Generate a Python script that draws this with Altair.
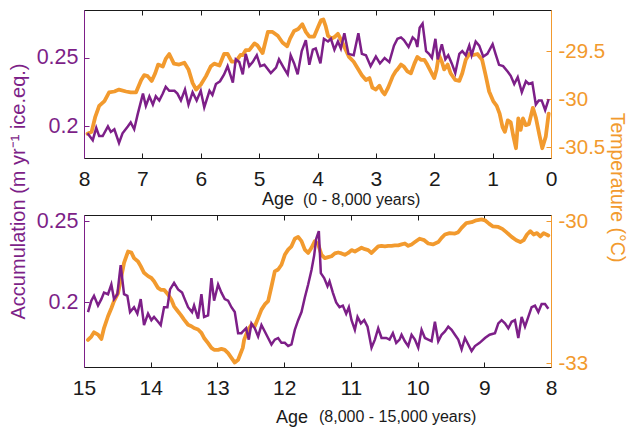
import altair as alt
import pandas as pd

PURPLE = "#7d1f88"
ORANGE = "#f29a2e"
INK = "#1a1a1a"
FONT = "Liberation Sans"

# ---- 0 - 8,000 years (ages in kyr) ----
top_acc_age = [7.94, 7.85, 7.79, 7.74, 7.68, 7.59, 7.54, 7.48, 7.40, 7.34, 7.25, 7.20, 7.14, 7.08,
               6.99, 6.94, 6.88, 6.82, 6.77, 6.71, 6.65, 6.60, 6.54, 6.45, 6.40, 6.34, 6.27, 6.21,
               6.14, 6.07, 6.00, 5.94, 5.85, 5.80, 5.74, 5.67, 5.60, 5.54, 5.45, 5.40, 5.34,
               5.28, 5.23, 5.17, 5.11, 5.04, 4.98, 4.91, 4.80, 4.71, 4.66, 4.58, 4.51, 4.46, 4.40,
               4.34, 4.27, 4.20, 4.14, 4.08, 4.03, 3.95, 3.89, 3.82, 3.77, 3.71, 3.65, 3.60, 3.54,
               3.47, 3.38, 3.30, 3.24, 3.17, 3.09, 3.00, 2.93, 2.85, 2.77, 2.69,
               2.63, 2.57, 2.52, 2.44, 2.37, 2.32, 2.29, 2.25, 2.20, 2.14, 2.09, 2.04, 1.98, 1.94,
               1.87, 1.81, 1.76, 1.70, 1.64, 1.57, 1.52, 1.46, 1.40, 1.36, 1.29, 1.23, 1.16, 1.09,
               1.00, 0.95, 0.89, 0.82, 0.74, 0.69, 0.63, 0.57, 0.50, 0.43, 0.38, 0.32, 0.26, 0.21,
               0.16, 0.10, 0.04]
top_acc = [0.195, 0.190, 0.199, 0.193, 0.193, 0.200, 0.196, 0.198, 0.188, 0.195, 0.200, 0.203, 0.198, 0.209,
           0.224, 0.215, 0.222, 0.216, 0.222, 0.219, 0.224, 0.229, 0.226, 0.226, 0.224, 0.219, 0.227, 0.216,
           0.225, 0.219, 0.226, 0.214, 0.226, 0.223, 0.231, 0.233, 0.238, 0.244, 0.232, 0.249, 0.247,
           0.238, 0.253, 0.244, 0.247, 0.252, 0.244, 0.245, 0.239, 0.243, 0.249, 0.243, 0.238, 0.252, 0.246,
           0.238, 0.255, 0.263, 0.245, 0.256, 0.257, 0.246, 0.264, 0.262, 0.264, 0.256, 0.262, 0.257, 0.268,
           0.253, 0.252, 0.268, 0.253, 0.252, 0.244, 0.251, 0.246, 0.250, 0.247, 0.259,
           0.264, 0.265, 0.263, 0.258, 0.265, 0.263, 0.258, 0.272, 0.275, 0.255, 0.253, 0.250, 0.264, 0.249,
           0.260, 0.249, 0.252, 0.246, 0.239, 0.253, 0.255, 0.252, 0.259, 0.252, 0.262, 0.259, 0.251, 0.253,
           0.260, 0.253, 0.245, 0.244, 0.240, 0.237, 0.231, 0.236, 0.225, 0.233, 0.231, 0.232, 0.216, 0.219,
           0.219, 0.212, 0.220]

top_temp_age = [7.94, 7.87, 7.81, 7.74, 7.65, 7.57, 7.48, 7.40, 7.28, 7.20, 7.11, 7.02, 6.97, 6.91,
                6.84, 6.78, 6.73, 6.65, 6.60, 6.54, 6.46, 6.37, 6.28, 6.21, 6.14, 6.08, 6.00, 5.91,
                5.83, 5.77, 5.68, 5.60, 5.54, 5.47, 5.40, 5.32,
                5.28, 5.23, 5.17, 5.08, 5.03, 4.94, 4.85, 4.77, 4.68, 4.60, 4.52, 4.47, 4.40, 4.33,
                4.26, 4.20, 4.14, 4.06, 3.99, 3.94, 3.90, 3.86, 3.82, 3.76, 3.70, 3.65, 3.59, 3.53,
                3.46, 3.38, 3.31, 3.24, 3.17, 3.11, 3.06, 3.00, 2.94, 2.89, 2.85, 2.79, 2.71, 2.66,
                2.63, 2.57, 2.52, 2.46, 2.40, 2.34, 2.29, 2.23, 2.17, 2.12, 2.06, 2.00, 1.96, 1.92,
                1.87, 1.83, 1.77, 1.72, 1.64, 1.57, 1.52, 1.46, 1.40, 1.33, 1.26, 1.18, 1.12, 1.06,
                0.99, 0.93, 0.88, 0.83, 0.79, 0.74, 0.69, 0.65, 0.60, 0.56, 0.52, 0.48, 0.43, 0.38,
                0.31, 0.26, 0.20, 0.15, 0.09, 0.04]
top_temp = [-30.36, -30.34, -30.19, -30.07, -30.02, -29.93, -29.92, -29.90, -29.92, -29.93, -29.93, -29.80,
            -29.75, -29.76, -29.81, -29.73, -29.64, -29.66, -29.58, -29.53, -29.63, -29.64, -29.62, -29.69,
            -29.83, -29.90, -29.85, -29.76, -29.66, -29.63, -29.65, -29.53, -29.53, -29.61, -29.61, -29.54,
            -29.54, -29.49, -29.49, -29.42, -29.44, -29.52, -29.30, -29.30, -29.34, -29.41, -29.45, -29.37,
            -29.29, -29.27, -29.22, -29.30, -29.35, -29.35, -29.25, -29.18, -29.17, -29.24, -29.34, -29.37,
            -29.35, -29.32, -29.39, -29.47, -29.56, -29.61, -29.68, -29.75, -29.80, -29.78, -29.88, -29.90,
            -29.86, -29.92, -29.95, -29.88, -29.76, -29.71,
            -29.69, -29.64, -29.66, -29.71, -29.73, -29.63, -29.56, -29.59, -29.59, -29.64, -29.71, -29.78,
            -29.69, -29.54, -29.61, -29.69, -29.64, -29.73, -29.80, -29.81, -29.73, -29.59, -29.53, -29.54,
            -29.53, -29.59, -29.75, -29.92, -30.02, -30.07, -30.15, -30.29, -30.34, -30.22, -30.24, -30.37,
            -30.51, -30.20, -30.32, -30.20, -30.27, -30.26, -30.09, -30.19, -30.37, -30.51, -30.39, -30.15]

# ---- 8,000 - 15,000 years ----
bot_acc_age = [14.94, 14.89, 14.85, 14.79, 14.74, 14.70, 14.64, 14.59, 14.55, 14.50, 14.47, 14.45,
               14.40, 14.35, 14.31, 14.25, 14.20, 14.15, 14.10, 14.04, 13.99, 13.95, 13.89, 13.85,
               13.80, 13.75, 13.71, 13.65, 13.59, 13.53, 13.49, 13.44, 13.38, 13.35, 13.29, 13.24,
               13.20, 13.14, 13.09, 13.05, 12.99, 12.94, 12.89, 12.84, 12.79, 12.74, 12.69, 12.64,
               12.62, 12.57, 12.53, 12.49, 12.44, 12.39, 12.34, 12.29, 12.24, 12.19, 12.14, 12.09,
               12.04, 11.99, 11.94, 11.89, 11.84, 11.79, 11.74, 11.69, 11.64, 11.59, 11.55, 11.52,
               11.48, 11.45, 11.40, 11.35, 11.32, 11.27, 11.22, 11.17, 11.12, 11.07, 11.03, 10.99,
               10.94, 10.90, 10.85, 10.80, 10.75, 10.69, 10.64, 10.59, 10.54, 10.47, 10.42, 10.37,
               10.32, 10.27,
               10.24, 10.19, 10.14, 10.09, 10.04, 9.99, 9.94, 9.89, 9.84, 9.79, 9.74, 9.69, 9.64,
               9.59, 9.54, 9.49, 9.44, 9.39, 9.34, 9.29, 9.24, 9.19, 9.14, 9.07, 8.99, 8.92, 8.84,
               8.79, 8.74, 8.69, 8.64, 8.59, 8.54, 8.49, 8.44, 8.39, 8.34, 8.29, 8.24, 8.19, 8.14,
               8.09, 8.04]
bot_acc = [0.194, 0.201, 0.204, 0.198, 0.202, 0.206, 0.205, 0.211, 0.202, 0.205, 0.216, 0.223,
           0.205, 0.204, 0.194, 0.197, 0.193, 0.202, 0.186, 0.193, 0.189, 0.191, 0.188, 0.186,
           0.197, 0.197, 0.208, 0.212, 0.208, 0.206, 0.202, 0.197, 0.194, 0.198, 0.190, 0.205,
           0.191, 0.192, 0.215, 0.201, 0.211, 0.206, 0.202, 0.201, 0.197, 0.194, 0.181, 0.181,
           0.182, 0.184, 0.177, 0.187, 0.184, 0.179, 0.186, 0.182, 0.178, 0.174, 0.177, 0.178,
           0.175, 0.175, 0.173, 0.174, 0.183, 0.189, 0.194, 0.203, 0.211, 0.220, 0.229, 0.239,
           0.244, 0.218, 0.215, 0.210, 0.213, 0.206, 0.200, 0.197, 0.198, 0.193, 0.197, 0.189,
           0.183, 0.191, 0.187, 0.189, 0.185, 0.172, 0.177, 0.184, 0.178, 0.178, 0.177, 0.181,
           0.175, 0.177,
           0.180, 0.176, 0.173, 0.180, 0.177, 0.172, 0.183, 0.178, 0.177, 0.176, 0.188, 0.176, 0.180,
           0.182, 0.185, 0.183, 0.180, 0.177, 0.171, 0.178, 0.174, 0.170, 0.173, 0.175, 0.178, 0.180,
           0.181, 0.187, 0.189, 0.187, 0.184, 0.188, 0.189, 0.178, 0.191, 0.185, 0.191, 0.197, 0.198,
           0.194, 0.199, 0.199, 0.196]

bot_temp_age = [14.94, 14.89, 14.85, 14.79, 14.74, 14.70, 14.64, 14.59, 14.55, 14.49, 14.45, 14.40,
                14.34, 14.29, 14.25, 14.19, 14.15, 14.10, 14.04, 13.99, 13.95, 13.89, 13.85, 13.80,
                13.74, 13.69, 13.65, 13.59, 13.55, 13.50, 13.44, 13.39, 13.35, 13.29, 13.24, 13.20,
                13.14, 13.09, 13.05, 12.99, 12.94, 12.89, 12.84, 12.79, 12.74, 12.69, 12.64,
                12.62, 12.60, 12.54, 12.49, 12.44, 12.39, 12.34, 12.29, 12.24, 12.19, 12.14, 12.09,
                12.04, 11.99, 11.94, 11.89, 11.84, 11.79, 11.74, 11.69, 11.64, 11.59, 11.54, 11.49,
                11.44, 11.39, 11.34, 11.29, 11.24, 11.19, 11.14, 11.09, 11.04, 10.99, 10.94, 10.89,
                10.84, 10.79, 10.74, 10.69, 10.64, 10.59, 10.54, 10.49, 10.44, 10.39, 10.34, 10.29,
                10.24, 10.19, 10.14, 10.09, 10.04, 9.97, 9.90, 9.84, 9.77, 9.69, 9.64, 9.59, 9.52,
                9.44, 9.39, 9.34, 9.27, 9.19, 9.12, 9.04, 8.99, 8.93, 8.87, 8.79, 8.73, 8.67, 8.59,
                8.52, 8.46, 8.41, 8.36, 8.31, 8.26, 8.21, 8.16, 8.11, 8.04]
bot_temp = [-32.51, -32.44, -32.35, -32.40, -32.49, -32.26, -32.01, -31.84, -31.69, -31.52, -31.24, -30.88,
            -30.64, -30.66, -30.78, -30.85, -30.95, -31.09, -31.16, -31.20, -31.27, -31.41, -31.45, -31.45,
            -31.55, -31.66, -31.80, -31.91, -31.98, -32.08, -32.19, -32.22, -32.26, -32.29, -32.36, -32.47,
            -32.58, -32.68, -32.72, -32.72, -32.70, -32.72, -32.79, -32.89, -32.99, -32.93, -32.75,
            -32.68, -32.51, -32.29, -32.19, -32.22, -32.05, -31.87, -31.76, -31.69, -31.38, -31.06, -31.02,
            -30.92, -30.71, -30.60, -30.53, -30.37, -30.33, -30.42, -30.60, -30.67, -30.56, -30.42, -30.49,
            -30.71, -30.78, -30.76, -30.74, -30.68, -30.66, -30.68, -30.71, -30.67, -30.61, -30.64, -30.60,
            -30.56, -30.59, -30.61, -30.67, -30.60, -30.53, -30.52, -30.53, -30.52, -30.52, -30.51, -30.51,
            -30.49, -30.47, -30.52, -30.49, -30.44, -30.37, -30.40, -30.47, -30.49, -30.44, -30.35, -30.28,
            -30.25, -30.26, -30.23, -30.14, -30.04, -30.02, -29.98, -29.96, -29.98, -30.05, -30.11, -30.12,
            -30.16, -30.23, -30.33, -30.40, -30.44, -30.40, -30.28, -30.21, -30.28, -30.25, -30.32, -30.25,
            -30.30]

W = 467


def panel(acc_age, acc, temp_age, temp, x_dom, x_ticks, acc_dom, acc_ticks, temp_dom, temp_ticks,
          h, note, age_x, age_dy, note_x, with_titles):
    acc_df = pd.DataFrame({"age": acc_age, "acc": acc})
    temp_df = pd.DataFrame({"age": temp_age, "temp": temp})
    xs = alt.Scale(domain=x_dom, reverse=True, nice=False, zero=False)
    sa = alt.Scale(domain=acc_dom, nice=False, zero=False)
    st = alt.Scale(domain=temp_dom, nice=False, zero=False)

    acc_axis = dict(orient="left", values=acc_ticks, ticks=False, tickSize=0, labelColor=PURPLE,
                    labelFontSize=21.5, labelPadding=6, labelFlush=False, domainColor=PURPLE,
                    grid=False, format="~g", title=None)
    temp_axis = dict(orient="right", values=temp_ticks, ticks=False, tickSize=0, labelColor=ORANGE,
                     labelFontSize=20.5, labelPadding=7, labelFlush=False, domainColor=ORANGE,
                     grid=False, labelExpr="'' + datum.value", title=None)
    if with_titles:
        acc_axis.update(title="Accumulation (m yr⁻¹ ice.eq.)", titleColor=PURPLE, titleFontSize=20,
                        titleFontWeight="normal", titleAngle=270, titleX=-66, titleY=181,
                        titleAlign="center", titleBaseline="middle")
        temp_axis.update(title="Temperature (°C)", titleColor=ORANGE, titleFontSize=19.5,
                         titleFontWeight="normal", titleAngle=90, titleX=65, titleY=177,
                         titleAlign="center", titleBaseline="middle")

    x_main = alt.Axis(orient="bottom", values=x_ticks, ticks=False, tickSize=0, format="d",
                      labelFontSize=21, labelColor=INK, labelPadding=10, labelFlush=False,
                      domainColor=INK, grid=False, title="Age", titleFontSize=18,
                      titleFontWeight="normal", titleColor=INK, titleX=age_x, titleY=age_dy,
                      titleAlign="center", titleBaseline="alphabetic")
    # top frame edge with ticks pointing down into the plot
    x_frame = alt.Axis(orient="bottom", offset=-h, values=x_ticks, labels=False, tickSize=5,
                       tickColor=INK, domainColor=INK, grid=False, title=None)
    # inward ticks on the bottom edge
    x_inner = alt.Axis(orient="top", offset=-h, values=x_ticks, labels=False, domain=False,
                       tickSize=5, tickColor=INK, grid=False, title=None)
    acc_inner = alt.Axis(orient="right", offset=-W, values=acc_ticks, labels=False, domain=False,
                         tickSize=5, tickColor=PURPLE, grid=False, title=None)
    temp_inner = alt.Axis(orient="left", offset=-W, values=temp_ticks, labels=False, domain=False,
                          tickSize=5, tickColor=ORANGE, grid=False, title=None)

    temp_ticks_layer = alt.Chart(temp_df).mark_line(opacity=0).encode(
        x=alt.X("age:Q", scale=xs, axis=None),
        y=alt.Y("temp:Q", scale=st, axis=temp_inner),
    )
    acc_ticks_layer = alt.Chart(acc_df).mark_line(opacity=0).encode(
        x=alt.X("age:Q", scale=xs, axis=x_inner),
        y=alt.Y("acc:Q", scale=sa, axis=acc_inner),
    )
    temp_line = alt.Chart(temp_df).mark_line(
        color=ORANGE, strokeWidth=3.8, strokeJoin="round", strokeCap="round"
    ).encode(
        x=alt.X("age:Q", scale=xs, axis=x_frame),
        y=alt.Y("temp:Q", scale=st, axis=alt.Axis(**temp_axis)),
    )
    acc_line = alt.Chart(acc_df).mark_line(color=PURPLE, strokeWidth=2.5).encode(
        x=alt.X("age:Q", scale=xs, axis=x_main),
        y=alt.Y("acc:Q", scale=sa, axis=alt.Axis(**acc_axis)),
    )
    note_layer = alt.Chart(pd.DataFrame({"t": [note]})).mark_text(
        align="left", baseline="alphabetic", fontSize=16, font=FONT, color=INK
    ).encode(x=alt.value(note_x), y=alt.value(h + age_dy), text="t:N")

    return (
        alt.layer(temp_ticks_layer, acc_ticks_layer, temp_line, acc_line, note_layer)
        .resolve_scale(x="independent", y="independent")
        .resolve_axis(x="independent", y="independent")
        .properties(width=W, height=h)
    )


top = panel(top_acc_age, top_acc, top_temp_age, top_temp,
            [0, 8], list(range(0, 9)), [0.177, 0.285], [0.2, 0.25],
            [-30.612, -29.072], [-30.5, -30, -29.5],
            148, "(0 - 8,000 years)", 193.5, 46.5, 219, True)
bottom = panel(bot_acc_age, bot_acc, bot_temp_age, bot_temp,
               [8, 15], list(range(8, 16)), [0.1601, 0.2539], [0.2, 0.25],
               [-33.084, -29.867], [-33, -30],
               152, "(8,000 - 15,000 years)", 207.5, 55, 235, False)

chart = (
    alt.vconcat(top, bottom, spacing=57, bounds="flush",
                padding={"left": 0, "top": 1, "right": 4, "bottom": 4})
    .configure_view(stroke=None)
    .configure_axis(labelFont=FONT, titleFont=FONT)
)

chart.save("out.html", embed_options={"renderer": "svg", "actions": False})
